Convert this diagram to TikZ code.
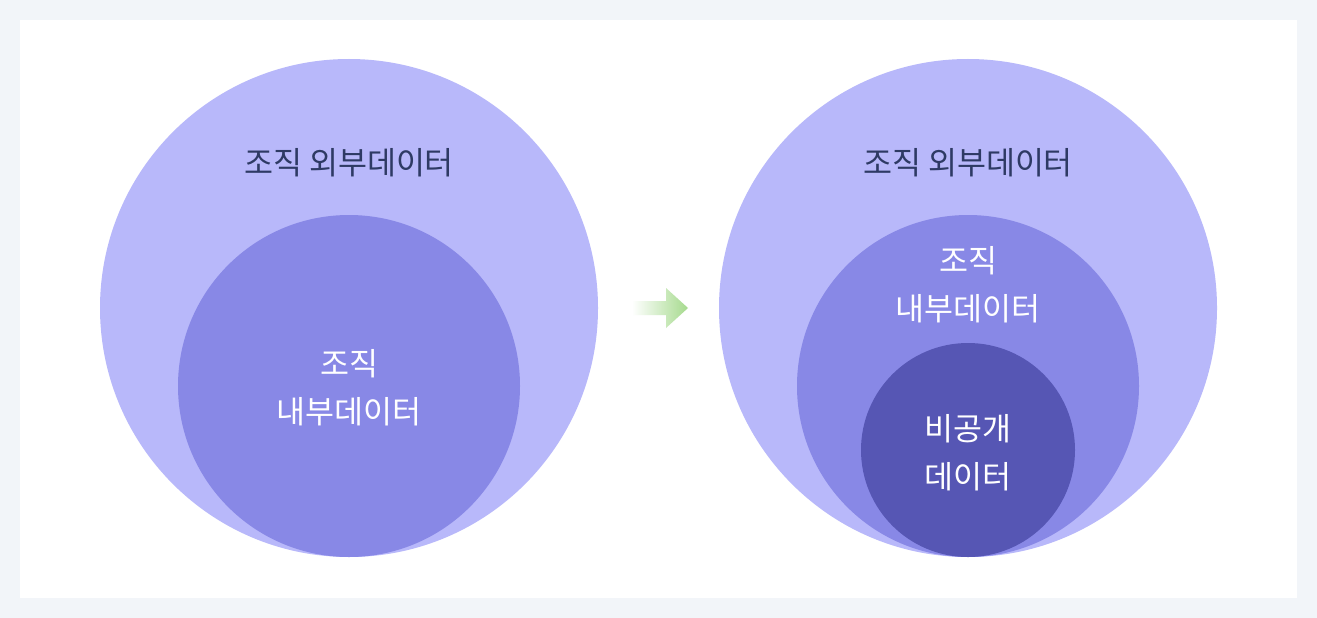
\documentclass[tikz,border=0pt]{standalone}
\usepackage{fontspec}
\setmainfont{Noto Sans CJK KR}
\definecolor{pagebg}{HTML}{F2F5F9}
\definecolor{outerc}{HTML}{B8B8FA}
\definecolor{innerc}{HTML}{8888E6}
\definecolor{darkc}{HTML}{5656B4}
\definecolor{navy}{HTML}{2E3A64}
\definecolor{arrowgreen}{HTML}{A6DA8E}
\tikzset{
    blob/.style={circle, inner sep=0pt, draw=none, minimum size=#1},
    darktext/.style={text=navy, font=\fontsize{31.5}{48}\selectfont},
    whitetext/.style={text=white, align=center, font=\fontsize{31.5}{48}\selectfont}
}
\begin{document}
\begin{tikzpicture}[x=1pt,y=-1pt]
        \fill[pagebg] (0,0) rectangle (1317,618);
        \fill[white] (20,20) rectangle (1297,598);
        \useasboundingbox (0,0) rectangle (1317,618);
        % left: before
        \node[blob=498pt, fill=outerc] (outerL) at (349,308) {};
        \node[blob=342pt, fill=innerc] (innerL) at (349,386) {};
        \node[darktext] (extL) at (349,163) {조직 외부데이터};
        \node[whitetext] (intL) at (349,388) {조직\\내부데이터};
        % right: after
        \node[blob=498pt, fill=outerc] (outerR) at (968,308) {};
        \node[blob=342pt, fill=innerc] (innerR) at (968,386) {};
        \node[blob=214pt, fill=darkc] (privR) at (968,450) {};
        \node[darktext] (extR) at (968,163) {조직 외부데이터};
        \node[whitetext] (intR) at (968,285) {조직\\내부데이터};
        \node[whitetext] (privT) at (968,453) {비공개\\데이터};
        % arrow
        \coordinate (arrS) at (632,308);
        \coordinate (arrE) at (688,308);
        \shade[left color=white, right color=arrowgreen]
            (632,301) -- (666,301) -- (666,288) -- (arrE) -- (666,328)
            -- (666,315) -- (632,315) -- cycle;
\end{tikzpicture}
\end{document}
